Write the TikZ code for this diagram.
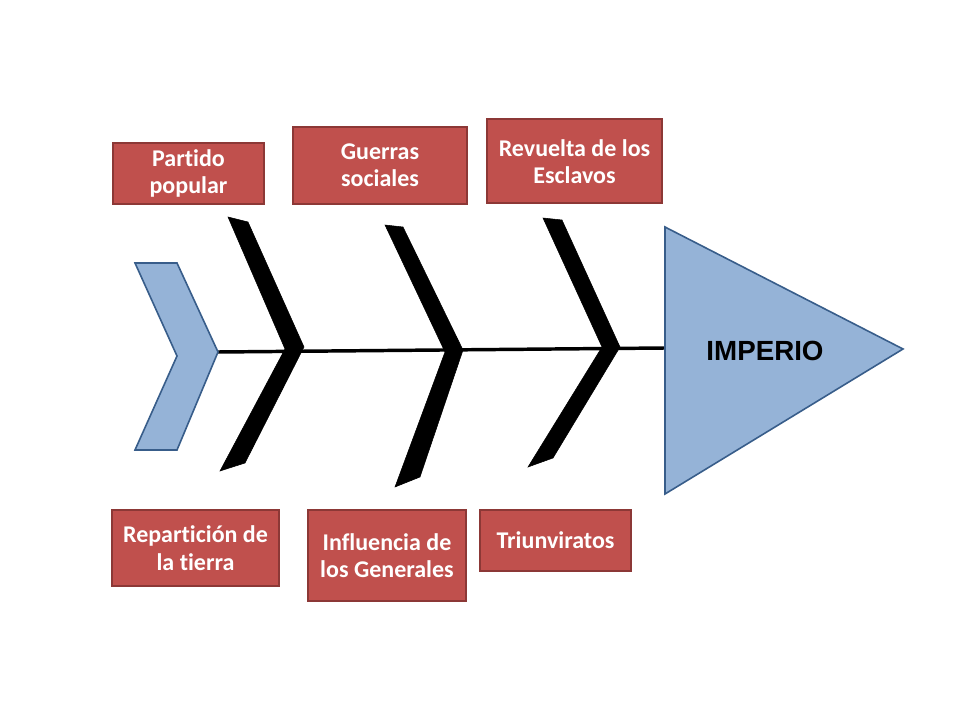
\documentclass[tikz,border=0pt]{standalone}
\usepackage{fontspec}
\newfontfamily\calibri[Ligatures=NoCommon]{Carlito}
\newfontfamily\arialf{Liberation Sans}
\definecolor{boxfill}{HTML}{C0504D}
\definecolor{boxline}{HTML}{8C3836}
\definecolor{bluefill}{HTML}{95B3D7}
\definecolor{blueline}{HTML}{385D8A}
\tikzset{
  causebox/.style={draw=boxline, fill=boxfill, line width=1.5pt, text=white,
    font=\calibri\bfseries\fontsize{18}{20.5}\selectfont, align=center, inner sep=0pt},
  blueshape/.style={draw=blueline, fill=bluefill, line width=1.2pt, line join=miter},
  bone/.style={fill=black, draw=black, line width=0.4pt},
  spine/.style={draw=black, line width=2.6pt}
}
\begin{document}
\begin{tikzpicture}[x=0.75pt, y=-0.75pt]
\useasboundingbox (0,0) rectangle (960,720);
% spine
\coordinate (tail) at (218,352);
\coordinate (head) at (665,348);
\draw[spine] (tail) -- (head);
% tail chevron
\draw[blueshape] (135,263) -- (177,263) -- (tail) -- (177,450) -- (135,450) -- (177,356) -- cycle;
% head triangle
\draw[blueshape] (665,227) -- (903,349) -- (665,494) -- cycle;
\node[font=\arialf\bfseries\fontsize{20.8}{24}\selectfont] (imperio) at (765,351) {IMPERIO};
% bones
\fill[bone] (228,217) -- (248,222) -- (304,347) -- (245,463) -- (220,471) -- (285,349) -- cycle;
\fill[bone] (385,225) -- (403,227) -- (463,350) -- (420,477) -- (395,487) -- (445,352) -- cycle;
\fill[bone] (543,218) -- (562,220) -- (620,347) -- (553,458) -- (528,467) -- (602,347) -- cycle;
% cause boxes
\node[causebox, minimum width=113.25pt, minimum height=45.75pt] (partido) at (188.5,173.5) {Partido\\popular};
\node[causebox, minimum width=130.5pt, minimum height=57.75pt] (guerras) at (380,165.5) {Guerras\\sociales};
\node[causebox, minimum width=131.25pt, minimum height=63pt] (revuelta) at (574.5,161.5) {Revuelta de los\\Esclavos};
\node[causebox, minimum width=125.25pt, minimum height=57pt] (reparticion) at (195.5,548) {Repartición de\\la tierra};
\node[causebox, minimum width=118.5pt, minimum height=68.25pt] (influencia) at (387,555.5) {Influencia de\\los Generales};
\node[causebox, minimum width=113.25pt, minimum height=45.75pt] (triunviratos) at (555.5,540.5) {Triunviratos};
\end{tikzpicture}
\end{document}
